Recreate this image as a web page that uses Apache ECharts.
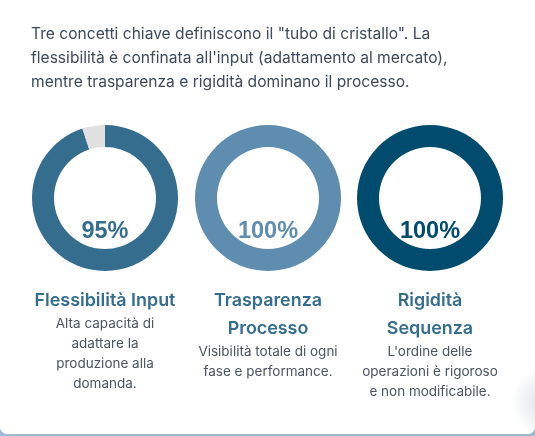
<!DOCTYPE html>
<html><head><meta charset="utf-8">
<style>
html,body{margin:0;padding:0;width:535px;height:436px;overflow:hidden;background:#fff}
#c{width:535px;height:436px}
</style>
<script src="https://cdn.jsdelivr.net/npm/echarts@6/dist/echarts.min.js"></script>
</head><body><div id="c"></div>
<script>
const intro = ['Tre concetti chiave definiscono il "tubo di cristallo". La','flessibilità è confinata all\'input (adattamento al mercato),','mentre trasparenza e rigidità dominano il processo.'];
const percentValues = [95, 100, 100];
const remainders = [5, 0, 0];
const percentLabels = ['95%','100%','100%'];
const ringColors = ['#356D8E','#5E8DB0','#004B6E'];
const titles = [['Flessibilità Input'],['Trasparenza','Processo'],['Rigidità','Sequenza']];
const descriptions = [['Alta capacità di','adattare la','produzione alla','domanda.'],['Visibilità totale di ogni','fase e performance.'],["L'ordine delle",'operazioni è rigoroso','e non modificabile.']];
const centersX = [105, 268, 430];
const font = 'Inter, "Noto Sans", sans-serif';
const chart = echarts.init(document.getElementById('c'), null, {renderer:'canvas'});
const graphic = [];
graphic.push({type:'rect',shape:{x:0,y:420,width:535,height:16},z:-5,style:{fill:'#9DBAD8'}});
graphic.push({type:'rect',shape:{x:0,y:415,width:535,height:19,r:[0,0,7,7]},z:-4,style:{fill:'#fff'}});
graphic.push({type:'rect',shape:{x:495,y:350,width:40,height:84,r:[0,0,7,0]},z:-3,style:{fill:{type:'radial',x:548,y:402,r:36,global:true,colorStops:[{offset:0.3,color:'rgba(228,231,235,1)'},{offset:1,color:'rgba(228,231,235,0)'}]}}});
intro.forEach((t,i)=>graphic.push({type:'text',x:31,y:34+i*24,style:{text:t,font:'400 15.6px '+font,fill:'#3F4A5A',textVerticalAlign:'middle'}}));
titles.forEach((ls,k)=>{
  ls.forEach((t,i)=>graphic.push({type:'text',x:centersX[k],y:301+i*28,style:{text:t,font:'600 17.9px '+font,fill:ringColors[0],textAlign:'center',textVerticalAlign:'middle'}}));
  const y0 = 324 + (ls.length-1)*28;
  descriptions[k].forEach((t,i)=>graphic.push({type:'text',x:centersX[k],y:y0+i*20,style:{text:t,font:'400 13.5px '+font,fill:'#4B5563',textAlign:'center',textVerticalAlign:'middle'}}));
});
percentLabels.forEach((t,k)=>graphic.push({type:'text',x:centersX[k],y:231.5,z:20,style:{text:t,font:'bold 23.5px "Liberation Sans", Arial, sans-serif',fill:ringColors[k],textAlign:'center',textVerticalAlign:'middle'}}));
const series = percentValues.map((v,k)=>({
  type:'pie',silent:true,radius:[51,73],center:[centersX[k],198],startAngle:90,clockwise:true,
  avoidLabelOverlap:false,stillShowZeroSum:false,animation:false,
  label:{show:false},labelLine:{show:false},
  data:[{value:v,itemStyle:{color:ringColors[k]}},{value:remainders[k],itemStyle:{color:'#E0E0E0'}}]
}));
chart.setOption({animation:false,backgroundColor:'#fff',series,graphic});
</script></body></html>
